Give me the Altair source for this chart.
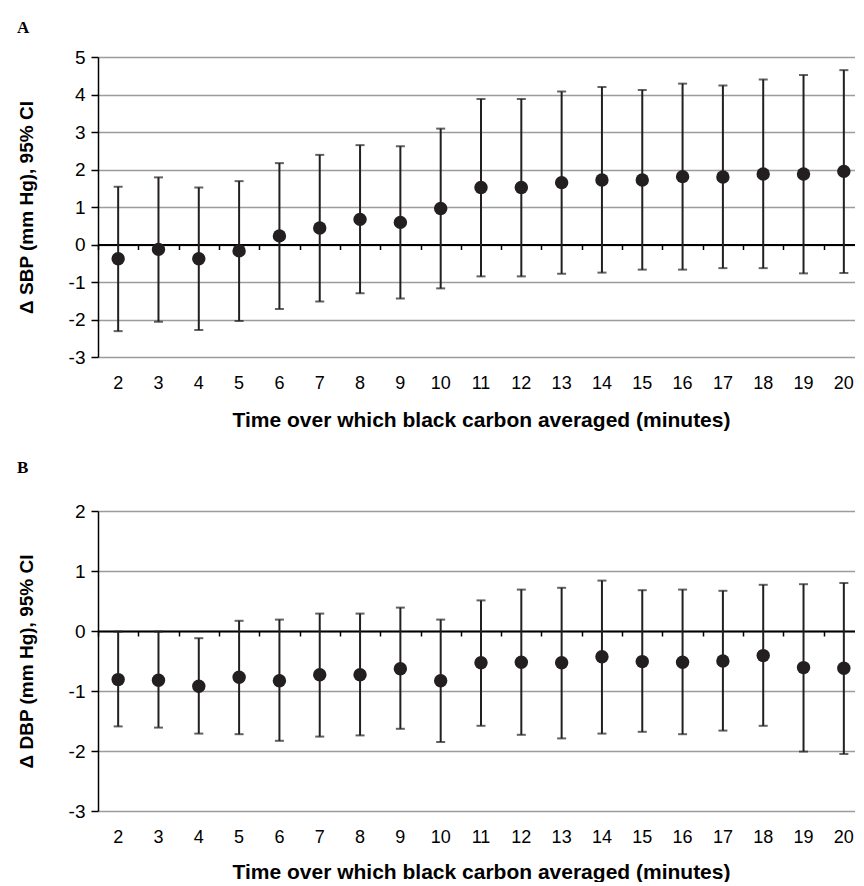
import altair as alt
import pandas as pd

minutes = list(range(2, 21))

sbp_est = [-0.38, -0.13, -0.38, -0.17, 0.23, 0.44, 0.67, 0.59, 0.96, 1.52, 1.52, 1.65, 1.72, 1.72, 1.81, 1.80, 1.88, 1.88, 1.95]
sbp_lo = [-2.31, -2.06, -2.28, -2.04, -1.72, -1.52, -1.30, -1.44, -1.17, -0.85, -0.85, -0.78, -0.75, -0.67, -0.67, -0.63, -0.63, -0.77, -0.76]
sbp_hi = [1.54, 1.79, 1.52, 1.69, 2.17, 2.39, 2.65, 2.62, 3.09, 3.88, 3.88, 4.08, 4.20, 4.12, 4.29, 4.24, 4.40, 4.52, 4.65]

dbp_est = [-0.81, -0.82, -0.92, -0.77, -0.83, -0.73, -0.73, -0.63, -0.83, -0.53, -0.52, -0.53, -0.43, -0.51, -0.52, -0.50, -0.41, -0.61, -0.62]
dbp_lo = [-1.59, -1.61, -1.71, -1.72, -1.83, -1.76, -1.74, -1.63, -1.85, -1.58, -1.73, -1.79, -1.71, -1.68, -1.72, -1.66, -1.58, -2.01, -2.05]
dbp_hi = [-0.01, -0.01, -0.12, 0.17, 0.19, 0.29, 0.29, 0.39, 0.19, 0.51, 0.69, 0.72, 0.84, 0.68, 0.69, 0.67, 0.77, 0.78, 0.80]

x_title = "Time over which black carbon averaged (minutes)"

INK = "#231f20"
GRID = "#9c9c9c"
FONT = "Liberation Sans"


def panel(est, lo, hi, letter, ytitle, ydom, zero_off, letter_offset, xtitle_pad):
    df = pd.DataFrame({"minute": minutes, "est": est, "lo": lo, "hi": hi})
    base = alt.Chart(df)
    xs = alt.Scale(type="band", paddingInner=0, paddingOuter=0)
    ys = alt.Scale(domain=ydom, nice=False, zero=False)
    yaxis = alt.Axis(
        values=list(range(ydom[0], ydom[1] + 1)),
        labelExpr="'' + datum.value",
        grid=True, gridColor=GRID, gridWidth=1.5,
        domainColor="black", domainWidth=1.5,
        tickColor="black", tickWidth=1.5, tickSize=7,
        labelPadding=6, labelFontSize=19, labelFont=FONT, labelColor="black",
        title=ytitle, titleFont=FONT, titleFontSize=19, titleFontWeight="bold",
        titleColor="black", titlePadding=32,
    )
    zero_axis = alt.Axis(
        orient="bottom", offset=-zero_off, labels=False, ticks=True,
        tickBand="extent", tickSize=5, tickColor="black", tickWidth=1.5,
        domain=True, domainColor="black", domainWidth=2, grid=False, title=None,
    )
    label_axis = alt.Axis(
        orient="bottom", labels=True, ticks=False, tickSize=0, domain=False,
        grid=False, labelAngle=0, labelFontSize=18, labelFont=FONT,
        labelColor="black", labelPadding=17,
        title=x_title, titleFont=FONT, titleFontSize=21, titleFontWeight="bold",
        titleColor="black", titlePadding=xtitle_pad,
    )

    bars = base.mark_rule(color=INK, strokeWidth=2).encode(
        x=alt.X("minute:O", scale=xs, axis=zero_axis),
        y=alt.Y("lo:Q", scale=ys, axis=yaxis),
        y2="hi:Q",
    )
    cap_lo = base.mark_tick(color=INK, size=9, thickness=2, orient="horizontal").encode(
        x=alt.X("minute:O", scale=xs, axis=None),
        y=alt.Y("lo:Q", scale=ys, axis=yaxis),
    )
    cap_hi = base.mark_tick(color=INK, size=9, thickness=2, orient="horizontal").encode(
        x=alt.X("minute:O", scale=xs, axis=None),
        y=alt.Y("hi:Q", scale=ys, axis=yaxis),
    )
    pts = base.mark_circle(color=INK, size=180, opacity=1).encode(
        x=alt.X("minute:O", scale=xs, axis=label_axis),
        y=alt.Y("est:Q", scale=ys, axis=yaxis),
    )
    return alt.layer(bars, cap_lo, cap_hi, pts).resolve_axis(x="independent").properties(
        width=766, height=300,
        title=alt.TitleParams(letter, anchor="start", frame="bounds",
                              font="Liberation Serif", fontSize=17,
                              fontWeight="bold", color="black", offset=letter_offset),
    )


pa = panel(sbp_est, sbp_lo, sbp_hi, "A", "\u0394 SBP (mm Hg), 95% CI", [-3, 5], 112.5, 11, 17)
pb = panel(dbp_est, dbp_lo, dbp_hi, "B", "\u0394 DBP (mm Hg), 95% CI", [-3, 2], 180, 25, 15)

chart = alt.vconcat(pa, pb, spacing=29).properties(
    padding={"left": 9, "top": 11, "right": -10, "bottom": 0},
    background="white",
).configure_view(stroke=None)

chart.save("out.html", embed_options={"renderer": "svg", "actions": False})
